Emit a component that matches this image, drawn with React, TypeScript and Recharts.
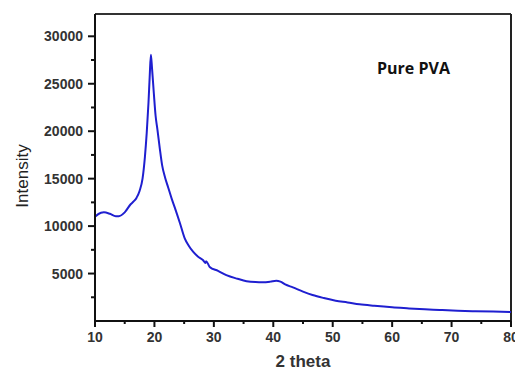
import { LineChart, Line, XAxis, YAxis, ReferenceLine } from 'recharts';

// 2 theta (deg) vs intensity
const twoTheta = [
  10, 11, 11.5, 12.5, 13.5, 14, 15, 16, 16.5, 17, 17.5, 18, 18.4, 18.7, 19, 19.2, 19.4,
  19.6, 19.9, 20.2, 20.5, 20.9, 21.3, 21.8, 22.3, 22.9, 23.4, 24.3, 25.1, 25.8, 26.5, 27.3,
  28.2, 28.6, 28.7, 29.3, 30.7, 32.1, 34, 35.5, 37, 38.2, 39.5, 40.5, 41.2, 42, 43.3, 45,
  46.6, 48.5, 50.5, 52.5, 54.5, 57, 60, 62.5, 65.5, 68, 71, 74, 77, 80,
];
const intensity = [
  11000, 11400, 11450, 11300, 11050, 11050, 11450, 12300, 12600, 13000, 13700, 15000,
  17300, 19800, 23000, 25700, 28050, 26600, 24000, 21600, 20200, 18200, 16400, 15100,
  14100, 12900, 12000, 10300, 8700, 7900, 7300, 6800, 6400, 6100, 6300, 5700, 5280, 4830,
  4450, 4200, 4100, 4080, 4150, 4250, 4150, 3850, 3540, 3100, 2740, 2420, 2140, 1960, 1760,
  1600, 1440, 1340, 1230, 1160, 1080, 1030, 990, 950,
];

const xDomain = [10, 80];
const yDomain = [0, 32350];
const xMajor = [10, 20, 30, 40, 50, 60, 70, 80];
const xTicks = [10, 15, 20, 25, 30, 35, 40, 45, 50, 55, 60, 65, 70, 75, 80];
const yMajor = [5000, 10000, 15000, 20000, 25000, 30000];
const yTicks = [2500, 5000, 7500, 10000, 12500, 15000, 17500, 20000, 22500, 25000, 27500, 30000];

const data = twoTheta.map((t, i) => ({ t, v: intensity[i] }));

const labelStyle = {
  fontFamily: '"Liberation Sans", Arial, sans-serif',
  fontWeight: 700,
  fontSize: 14,
  fill: '#333',
};

function XTick(props: any) {
  const { x, y, payload } = props;
  const major = xMajor.includes(payload.value);
  return (
    <g>
      <line x1={x} x2={x} y1={y} y2={y + (major ? 6 : 3)} stroke="#111" strokeWidth={2} />
      {major && (
        <text x={x} y={y + 21} textAnchor="middle" {...labelStyle}>
          {payload.value}
        </text>
      )}
    </g>
  );
}

function YTick(props: any) {
  const { x, y, payload } = props;
  const major = yMajor.includes(payload.value);
  return (
    <g>
      <line x1={x} x2={x - (major ? 7 : 4)} y1={y} y2={y} stroke="#111" strokeWidth={2} />
      {major && (
        <text x={x - 12} y={y + 5} textAnchor="end" {...labelStyle}>
          {payload.value}
        </text>
      )}
    </g>
  );
}

export default function App() {
  return (
    <div style={{ position: 'relative', width: 523, height: 380, margin: '-8px 0 0 -8px', background: '#fff' }}>
      <LineChart
        width={523}
        height={372}
        data={data}
        margin={{ top: 14, right: 12, left: 0, bottom: 0 }}
      >
        <XAxis
          dataKey="t"
          type="number"
          domain={xDomain}
          ticks={xTicks}
          interval={0}
          tick={<XTick />}
          tickLine={false}
          tickSize={0}
          tickMargin={0}
          height={51}
          axisLine={{ stroke: '#111', strokeWidth: 2 }}
        />
        <YAxis
          type="number"
          domain={yDomain}
          ticks={yTicks}
          interval={0}
          tick={<YTick />}
          tickLine={false}
          tickSize={0}
          tickMargin={0}
          width={95}
          axisLine={{ stroke: '#111', strokeWidth: 2 }}
        />
        {/* top and right edges of the plot frame */}
        <ReferenceLine y={yDomain[1]} stroke="#333" strokeWidth={2} />
        <ReferenceLine x={xDomain[1]} stroke="#222" strokeWidth={2} />
        <Line
          dataKey="v"
          type="monotone"
          stroke="#1f1fd0"
          strokeWidth={2}
          dot={false}
          isAnimationActive={false}
        />
      </LineChart>
      <div
        style={{
          position: 'absolute',
          left: 23,
          top: 176,
          transform: 'translate(-50%, -50%) rotate(-90deg)',
          fontFamily: '"Liberation Sans", Arial, sans-serif',
          fontSize: 17,
          color: '#222',
          whiteSpace: 'nowrap',
        }}
      >
        Intensity
      </div>
      <div
        style={{
          position: 'absolute',
          left: 303,
          top: 362,
          transform: 'translate(-50%, -50%)',
          fontFamily: '"Liberation Sans", Arial, sans-serif',
          fontWeight: 700,
          fontSize: 17,
          color: '#333',
          whiteSpace: 'nowrap',
        }}
      >
        2 theta
      </div>
      <div
        style={{
          position: 'absolute',
          left: 377,
          top: 68,
          transform: 'translateY(-50%)',
          fontFamily: '"Open Sans", sans-serif',
          fontWeight: 700,
          fontSize: 16,
          color: '#111',
          whiteSpace: 'nowrap',
        }}
      >
        Pure PVA
      </div>
    </div>
  );
}
